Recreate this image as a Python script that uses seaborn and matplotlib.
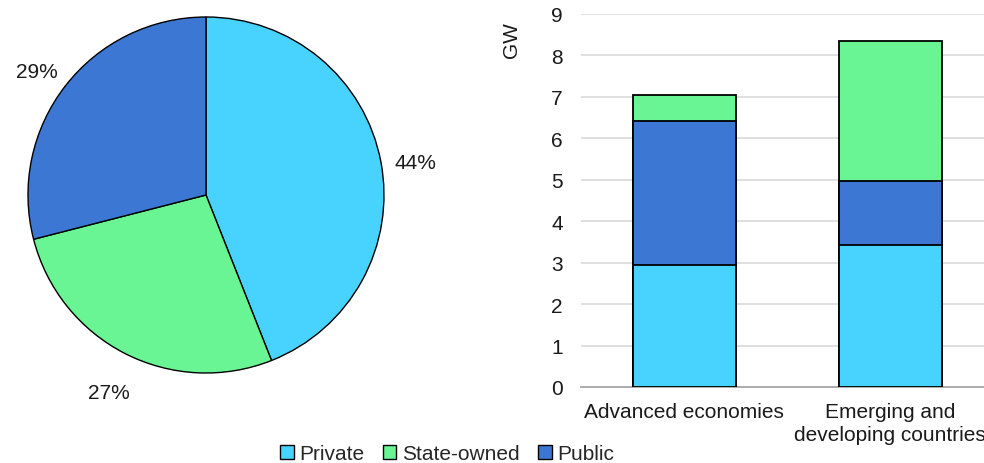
import matplotlib
matplotlib.use("Agg")
import matplotlib.pyplot as plt
import seaborn as sns
import pandas as pd
import numpy as np
from matplotlib.patches import Patch

sns.set_theme(style="white")
plt.rcParams['font.family'] = ['Liberation Sans', 'DejaVu Sans']

# ---- data ----
series = ["Private", "State-owned", "Public"]
colors = {"Private": "#48D3FF", "State-owned": "#69F593", "Public": "#3C78D3"}

pie_labels = ["Private", "State-owned", "Public"]
pie_values = [44, 27, 29]

categories = ["Advanced economies", "Emerging and\ndeveloping countries"]
private = [2.95, 3.43]
public = [3.47, 1.54]
state_owned = [0.63, 3.38]
yticks = [0, 1, 2, 3, 4, 5, 6, 7, 8, 9]

FS = 15
fig = plt.figure(figsize=(9.84, 4.64), dpi=100)

# ---- pie ----
axp = fig.add_axes([28/984, 90/464, 356/984, 356/464])
wedges, texts, autotexts = axp.pie(
    pie_values, colors=[colors[s] for s in pie_labels], startangle=90,
    counterclock=False, autopct=lambda p: f"{p:.0f}%", pctdistance=1.2,
    wedgeprops=dict(edgecolor="black", linewidth=1.0),
    textprops=dict(fontsize=FS, color="#1a1a1a"))
for t in autotexts:
    x, y = t.get_position()
    t.set_position((x, y - 0.04))
axp.set_xlim(-1, 1)
axp.set_ylim(-1, 1)
axp.set_aspect("equal")

# ---- stacked bars ----
axb = fig.add_axes([581/984, 1 - 388/464, 412/984, 373/464])
df = pd.DataFrame({"category": categories, "Private": private,
                   "Public": public, "State-owned": state_owned})
df["top_state"] = df["Private"] + df["Public"] + df["State-owned"]
df["top_public"] = df["Private"] + df["Public"]
df["top_private"] = df["Private"]

for col, s in [("top_state", "State-owned"), ("top_public", "Public"), ("top_private", "Private")]:
    sns.barplot(data=df, x="category", y=col, color=colors[s], saturation=1,
                width=0.5, edgecolor="black", linewidth=1.3, ax=axb, zorder=3)

axb.set_ylim(0, 9)
axb.set_xlim(-0.5, 1.5)
axb.set_yticks(yticks)
axb.grid(axis="y", color="#D9D9D9", linewidth=1.2, zorder=0)
axb.set_axisbelow(True)
for sp in ["left", "right", "top"]:
    axb.spines[sp].set_visible(False)
axb.spines["bottom"].set_color("#A6A6A6")
axb.spines["bottom"].set_linewidth(1.3)
axb.set_xlabel("")
axb.set_ylabel("")
axb.tick_params(axis="y", length=0, pad=13, labelsize=FS, labelcolor="#1a1a1a")
axb.tick_params(axis="x", which="major", length=0, pad=11, labelsize=FS, labelcolor="#1a1a1a")
axb.set_xticks([-0.5, 0.5, 1.5], minor=True)
axb.tick_params(axis="x", which="minor", length=5, color="#A6A6A6", width=1.3, direction="out")
for lab in axb.get_xticklabels():
    lab.set_linespacing(1.25)

fig.text(512/984, 1 - 40/464, "GW", rotation=90, ha="center", va="center",
         fontsize=FS, color="#1a1a1a")

handles = [Patch(facecolor=colors[s], edgecolor="black", linewidth=1.0, label=s) for s in series]
fig.legend(handles=handles, loc="center", bbox_to_anchor=(447/984, 1 - 455/464), ncol=3,
           frameon=False, fontsize=FS, handlelength=0.65, handleheight=0.65,
           handletextpad=0.25, columnspacing=0.9, borderaxespad=0)

fig.savefig("out.png", dpi=100)
